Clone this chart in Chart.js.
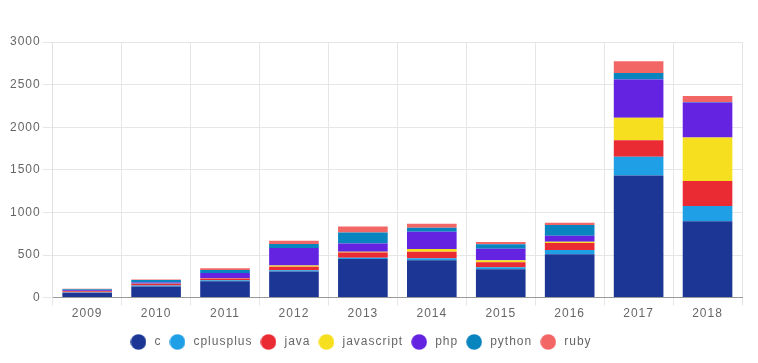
<!DOCTYPE html>
<html>
<head>
<meta charset="utf-8">
<script src="https://cdn.jsdelivr.net/npm/chart.js@4/dist/chart.umd.min.js"></script>
<style>
    html, body { margin: 0; padding: 0; background: #fff; }
    #wrap { width: 758px; height: 363px; }
</style>
</head>
<body>
<div id="wrap"><canvas id="chart"></canvas></div>
<script>
// Chart data
const years = ['2009', '2010', '2011', '2012', '2013', '2014', '2015', '2016', '2017', '2018'];
const cValues          = [55, 130, 191, 305, 453, 438, 332, 508, 1434, 895];
const cplusplusValues  = [5, 12, 12, 15, 15, 23, 23, 51, 219, 180];
const javaValues       = [15, 18, 20, 43, 62, 78, 59, 82, 195, 293];
const javascriptValues = [2, 3, 5, 15, 8, 31, 23, 15, 262, 512];
const phpValues        = [10, 15, 62, 203, 98, 203, 137, 70, 449, 410];
const pythonValues     = [10, 30, 35, 47, 129, 47, 51, 125, 78, 5];
const rubyValues       = [8, 3, 20, 39, 70, 47, 27, 27, 137, 70];
const yTicks = [0, 500, 1000, 1500, 2000, 2500, 3000];

const seriesList = [
    { label: 'c', data: cValues, color: '#1b3694' },
    { label: 'cplusplus', data: cplusplusValues, color: '#1f9fe6' },
    { label: 'java', data: javaValues, color: '#eb2b34' },
    { label: 'javascript', data: javascriptValues, color: '#f6df1f' },
    { label: 'php', data: phpValues, color: '#6422e1' },
    { label: 'python', data: pythonValues, color: '#0884bf' },
    { label: 'ruby', data: rubyValues, color: '#f36666' }
];

// small round marker for the legend
function makeDot(color) {
    const c = document.createElement('canvas');
    c.width = 16;
    c.height = 16;
    const ctx = c.getContext('2d');
    ctx.fillStyle = color;
    ctx.beginPath();
    ctx.arc(8, 8, 7.8, 0, Math.PI * 2);
    ctx.fill();
    return c;
}

// spread the letters a bit, like the original
const spacingPlugin = {
    id: 'spacing',
    beforeLayout(chart) { chart.ctx.letterSpacing = '1px'; },
    afterLayout(chart) { chart.legend.right -= 30; },
    beforeDraw(chart) { chart.ctx.letterSpacing = '1px'; }
};

Chart.defaults.font.family = 'Arial, "Liberation Sans", sans-serif';
Chart.defaults.font.size = 12;
Chart.defaults.color = '#666';

new Chart(document.getElementById('chart'), {
    type: 'bar',
    data: {
        labels: years,
        datasets: seriesList.map(s => ({
            label: s.label,
            data: s.data,
            backgroundColor: s.color,
            pointStyle: makeDot(s.color),
            borderWidth: 0
        }))
    },
    options: {
        responsive: true,
        maintainAspectRatio: false,
        animation: false,
        layout: { padding: { top: 42, right: 16, left: 8, bottom: 5 } },
        scales: {
            x: {
                stacked: true,
                grid: { color: '#e6e6e6', tickLength: 8 },
                border: { color: '#999' },
                ticks: { padding: 1 },
                afterFit: axis => { axis.height += 8; }
            },
            y: {
                stacked: true,
                min: 0,
                max: 3000,
                afterBuildTicks: axis => { axis.ticks = yTicks.map(v => ({ value: v })); },
                grid: { color: '#e6e6e6', tickLength: 10 },
                border: { color: '#e0e0e0' },
                ticks: { padding: 2, callback: v => String(v) }
            }
        },
        plugins: {
            legend: {
                position: 'bottom',
                labels: {
                    usePointStyle: true,
                    boxHeight: 11,
                    pointStyleWidth: 20,
                    padding: 6
                }
            },
            tooltip: { enabled: false }
        }
    },
    plugins: [spacingPlugin]
});
</script>
</body>
</html>
